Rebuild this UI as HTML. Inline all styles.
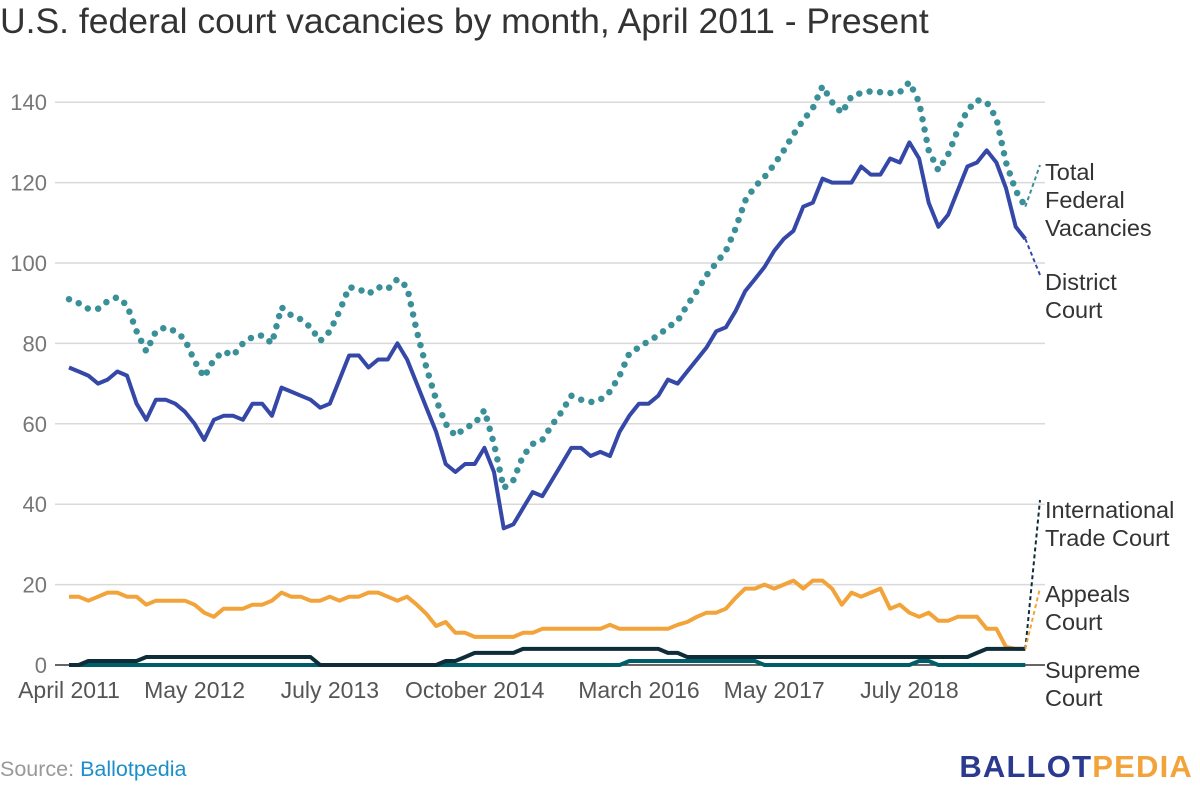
<!DOCTYPE html>
<html><head><meta charset="utf-8"><style>
body{margin:0;background:#fff;}
svg{display:block;font-family:"Liberation Sans",sans-serif;}
</style></head><body>
<svg id="chart" width="1200" height="800" viewBox="0 0 1200 800">
<text x="0" y="33" font-size="35.5" fill="#333">U.S. federal court vacancies by month, April 2011 - Present</text>
<g id="grid"></g>
<g id="ylabels"></g>
<g id="xlabels"></g>
<g id="series"></g>
<g id="labels"></g>
<text x="0" y="776" font-size="21.5"><tspan fill="#999">Source: </tspan><tspan fill="#1a8fc9">Ballotpedia</tspan></text>
<text x="1193" y="777" font-size="31" font-weight="bold" text-anchor="end" letter-spacing="1.2"><tspan fill="#2b3a8f">BALLOT</tspan><tspan fill="#f2a33a">PEDIA</tspan></text>
</svg>
<script>
const yTicks = [0,20,40,60,80,100,120,140];
const xTickIdx = [0,13,27,42,59,73,87];
const xTickLabels = ["April 2011","May 2012","July 2013","October 2014","March 2016","May 2017","July 2018"];
const total = [91,90,88.6,88.6,90.5,91.5,89.5,83,78,83,84,83,81,75.6,71.6,76,78,77,80,81.6,82,80,89,87,86,84,80.6,83,88,94,93.5,92.3,94,93.5,96,94,83,74,66,60,57,59,60,63.4,55,44,46,52,55,56,59.7,63,67,66,65.4,66,68,72,77.5,79,80.6,82,84,85.6,89.5,93,97,100,103,108.5,115.5,119,121.4,124.5,128,132,135.5,138.5,144,140,137.3,141.5,142.3,142.7,142.5,142.3,142.5,145,140,128,123,127,133,138,140.5,140,136,125,118,114];
const district = [74,73,72,70,71,73,72,65,61,66,66,65,63,60,56,61,62,62,61,65,65,62,69,68,67,66,64,65,71,77,77,74,76,76,80,76,70,64,58,50,48,50,50,54,48,34,35,39,43,42,46,50,54,54,52,53,52,58,62,65,65,67,71,70,73,76,79,83,84,88,93,96,99,103,106,108,114,115,121,120,120,120,124,122,122,126,125,130,126,115,109,112,118,124,125,128,125,118.6,109,106];
const appeals = [17,17,16,17,18,18,17,17,15,16,16,16,16,15,13,12,14,14,14,15,15,16,18,17,17,16,16,17,16,17,17,18,18,17,16,17,15,12.7,9.7,10.7,8,8,7,7,7,7,7,8,8,9,9,9,9,9,9,9,10,9,9,9,9,9,9,10,10.7,12,13,13,14,16.7,19,19,20,19,20,21,19,21,21,19,15,18,17,18,19,14,15,13,12,13,11,11,12,12,12,9,9,4.5,4,4];
const trade = [0,0,1,1,1,1,1,1,2,2,2,2,2,2,2,2,2,2,2,2,2,2,2,2,2,2,0,0,0,0,0,0,0,0,0,0,0,0,0,1,1,2,3,3,3,3,3,4,4,4,4,4,4,4,4,4,4,4,4,4,4,4,3,3,2,2,2,2,2,2,2,2,2,2,2,2,2,2,2,2,2,2,2,2,2,2,2,2,2,2,2,2,2,2,3,4,4,4,4,4];
const supreme = [0,0,0,0,0,0,0,0,0,0,0,0,0,0,0,0,0,0,0,0,0,0,0,0,0,0,0,0,0,0,0,0,0,0,0,0,0,0,0,0,0,0,0,0,0,0,0,0,0,0,0,0,0,0,0,0,0,0,1,1,1,1,1,1,1,1,1,1,1,1,1,1,0,0,0,0,0,0,0,0,0,0,0,0,0,0,0,0,1,1,0,0,0,0,0,0,0,0,0,0];

const NS="http://www.w3.org/2000/svg";
const X0=69, STEP=9.66, Y0=665, PX=4.02;
function xs(i){return X0+i*STEP;}
function ys(v){return Y0-v*PX;}
function mk(tag,parent,attrs){const e=document.createElementNS(NS,tag);for(const k in attrs)e.setAttribute(k,attrs[k]);parent.appendChild(e);return e;}

const grid=document.getElementById('grid'), yl=document.getElementById('ylabels'), xl=document.getElementById('xlabels');
yTicks.forEach(v=>{
  if(v>0){const l=mk('line',grid,{x1:55,x2:1045,y1:ys(v),y2:ys(v),stroke:'#d9d9d9','stroke-width':1.5});
  
  }
  const t=mk('text',yl,{x:47,y:ys(v)+8,'font-size':22,fill:'#777','text-anchor':'end'});
  t.textContent=v;
  
  
});
const ax=mk('line',grid,{x1:55,x2:1045,y1:Y0,y2:Y0,stroke:'#333','stroke-width':1.5});


xTickIdx.forEach((i,k)=>{
  const t=mk('text',xl,{x:xs(i),y:698,'font-size':23,fill:'#555','text-anchor':'middle'});
  t.textContent=xTickLabels[k];
  
  
});

const ser=document.getElementById('series');
function pts(arr){return arr.map((v,i)=>xs(i).toFixed(1)+','+ys(v).toFixed(1)).join(' ');}
function line(arr,color,name,extra){
  const p=mk('polyline',ser,Object.assign({points:pts(arr),fill:'none',stroke:color,'stroke-width':4,'stroke-linejoin':'round'},extra||{}));
  
  
  return p;
}
function leader(arr,color,tx,ty,name){
  const n=arr.length-1;
  const l=mk('line',ser,{x1:xs(n),y1:ys(arr[n]),x2:tx,y2:ty,stroke:color,'stroke-width':2,'stroke-dasharray':'4 3'});
  
  
}
line(appeals,'#f2a33a','appeals-court-line');
line(supreme,'#005e6a','supreme-court-line');
line(trade,'#0f2d38','international-trade-line');
line(district,'#3548a8','district-court-line');
line(total,'#3a8f99','total-vacancies-line',{'stroke-width':6.5,'stroke-dasharray':'0 10.5','stroke-linecap':'round'});
leader(total,'#3a8f99',1040,165,'total-leader');
leader(district,'#3548a8',1040,275,'district-leader');
leader(trade,'#0f2d38',1040,500,'trade-leader');
leader(appeals,'#f2a33a',1040,588,'appeals-leader');

const lab=document.getElementById('labels');
[[["Total","Federal","Vacancies"],180],[["District","Court"],290],[["International","Trade Court"],518],[["Appeals","Court"],602],[["Supreme","Court"],678]].forEach(([lines,y])=>{
  lines.forEach((s,j)=>{
    const t=mk('text',lab,{x:1045,y:y+j*28,'font-size':23.5,fill:'#333'});
    t.textContent=s;
    
    
  });
});
</script>
</body></html>
